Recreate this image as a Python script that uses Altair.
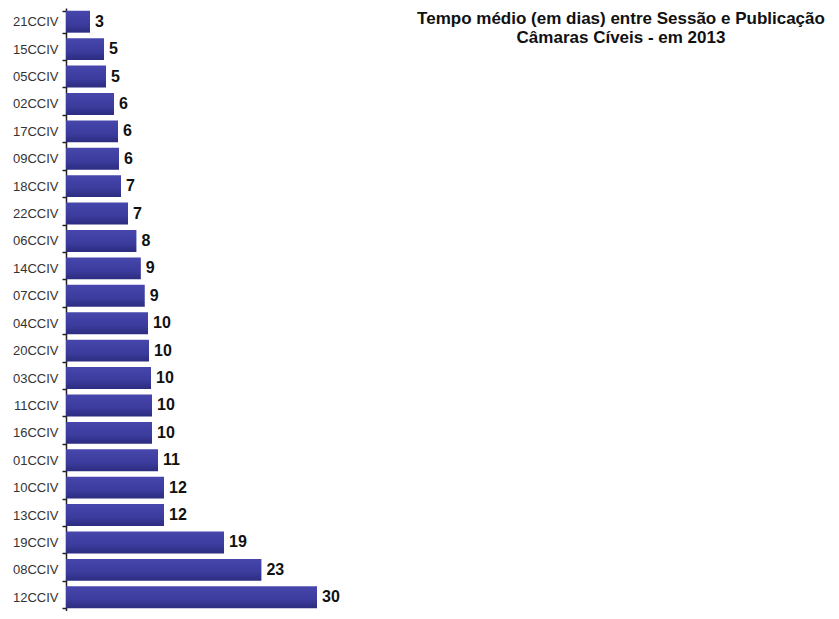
import altair as alt
import pandas as pd

categories = ["21CCIV", "15CCIV", "05CCIV", "02CCIV", "17CCIV", "09CCIV", "18CCIV",
              "22CCIV", "06CCIV", "14CCIV", "07CCIV", "04CCIV", "20CCIV", "03CCIV",
              "11CCIV", "16CCIV", "01CCIV", "10CCIV", "13CCIV", "19CCIV", "08CCIV", "12CCIV"]
values = [2.88, 4.56, 4.8, 5.76, 6.24, 6.36, 6.6, 7.44, 8.45, 8.98, 9.45, 9.84, 9.96,
          10.2, 10.32, 10.32, 11.04, 11.76, 11.76, 18.96, 23.45, 30.12]
title_lines = ["Tempo médio (em dias) entre Sessão e Publicação", "Câmaras Cíveis - em 2013"]

df = pd.DataFrame({"camara": categories, "dias": values})

y_enc = alt.Y("camara:N", sort=categories,
              scale=alt.Scale(paddingInner=0.2, paddingOuter=0.1),
              axis=alt.Axis(title=None, domainColor="#222222", domainWidth=1.5,
                            tickColor="#222222", tickSize=4, tickWidth=1.5, tickBand="extent",
                            labelColor="#333333", labelFontSize=13, labelFont="Liberation Sans",
                            labelPadding=4, grid=False))
x_enc = alt.X("dias:Q", scale=alt.Scale(domain=[0, 36]), axis=None)

bars = alt.Chart(df).mark_bar(
    color=alt.LinearGradient(gradient="linear",
                             stops=[alt.GradientStop(color="#4646AC", offset=0),
                                    alt.GradientStop(color="#3C3C9E", offset=0.6),
                                    alt.GradientStop(color="#2C2C80", offset=1)],
                             x1=0, x2=0, y1=0, y2=1)
).encode(x=x_enc, y=y_enc)

labels = alt.Chart(df).mark_text(
    align="left", baseline="middle", dx=5, fontSize=16, fontWeight="bold",
    font="Liberation Sans", color="#111111"
).encode(x=x_enc, y=alt.Y("camara:N", sort=categories), text=alt.Text("dias:Q", format=".0f"))

chart = alt.layer(bars, labels).properties(
    width=300, height=603,
    autosize=alt.AutoSizeParams(type="none"),
    padding={"left": 58, "top": 0, "right": 465, "bottom": 0},
    title=alt.TitleParams(text=title_lines, anchor="middle", frame="group",
                          baseline="top", offset=-45, dx=405,
                          fontSize=17, fontWeight="bold", font="Liberation Sans",
                          color="#111111", lineHeight=19.5)
).configure_view(stroke=None)

chart.save("out.html", embed_options={"renderer": "svg", "actions": False})
